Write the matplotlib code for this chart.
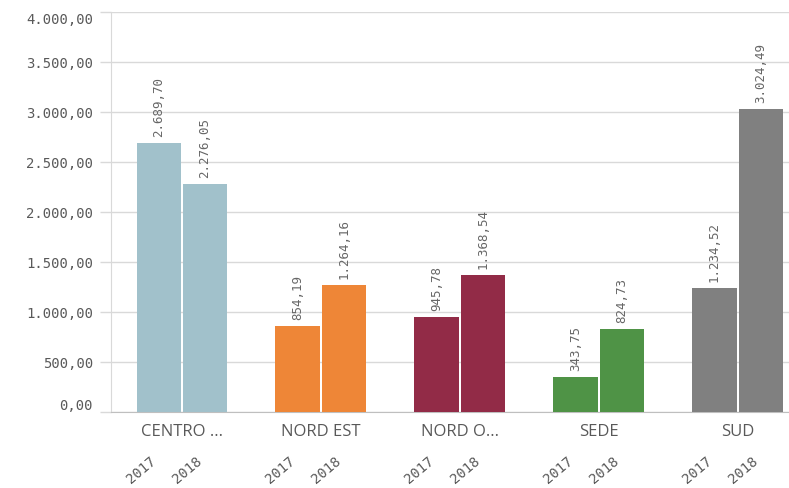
import matplotlib
matplotlib.use("Agg")
import matplotlib.pyplot as plt
import numpy as np

# data
categories = ["CENTRO ...", "NORD EST", "NORD O...", "SEDE", "SUD"]
years = ["2017", "2018"]
values_2017 = [2689.70, 854.19, 945.78, 343.75, 1234.52]
values_2018 = [2276.05, 1264.16, 1368.54, 824.73, 3024.49]
colors = ["#a1c1cb", "#ee8637", "#922b47", "#4f9346", "#808080"]
y_ticks = [0, 500, 1000, 1500, 2000, 2500, 3000, 3500, 4000]

TEXT = "#595959"
GRID = "#d9d9d9"
MONO = "DejaVu Sans Mono"


def it_number(v):
    # italian style: 1.234,56
    s = f"{v:,.2f}"
    return s.replace(",", "X").replace(".", ",").replace("X", ".")


def main():
    W, H = 789, 489
    fig = plt.figure(figsize=(W / 100, H / 100), dpi=100)
    left, right = 111 / W, 1.0
    bottom, top = 1 - 412.7 / H, 1 - 12.7 / H
    ax = fig.add_axes([left, bottom, right - left, top - bottom])

    x = np.arange(len(categories))
    width = 0.317
    offset = 0.167

    for i, cat in enumerate(categories):
        for j, vals in enumerate([values_2017, values_2018]):
            xp = x[i] + (-offset if j == 0 else offset)
            ax.bar(xp, vals[i], width=width, color=colors[i], zorder=3)
            ax.annotate(
                it_number(vals[i]),
                xy=(xp, vals[i]),
                xytext=(0, 5),
                textcoords="offset points",
                rotation=90,
                ha="center",
                va="bottom",
                fontsize=9,
                family=MONO,
                color="#666666",
            )
            ax.annotate(
                years[j],
                xy=(xp, 0),
                xycoords=("data", "axes fraction"),
                xytext=(0, -30),
                textcoords="offset points",
                rotation=40,
                ha="right",
                va="top",
                fontsize=10,
                family=MONO,
                color=TEXT,
            )

    ax.set_xlim(-0.509, 4.369)
    ax.set_ylim(0, 4000)

    ax.set_yticks(y_ticks)
    ax.set_yticklabels([it_number(v) for v in y_ticks], family=MONO, fontsize=10, color=TEXT)
    ax.tick_params(axis="y", length=8, color=GRID, width=1, pad=5)
    ticks = ax.yaxis.get_major_ticks()
    ticks[0].label1.set_verticalalignment("bottom")
    ticks[-1].label1.set_verticalalignment("top")

    ax.set_xticks(x)
    ax.set_xticklabels(categories, fontsize=12, color=TEXT, family="Open Sans")
    ax.tick_params(axis="x", length=0, pad=8)

    ax.grid(axis="y", color=GRID, linewidth=1, zorder=0)
    ax.set_axisbelow(True)

    for side in ["top", "right"]:
        ax.spines[side].set_visible(False)
    ax.spines["left"].set_color(GRID)
    ax.spines["bottom"].set_color("#bfbfbf")

    fig.savefig("out.png", dpi=100)


if __name__ == "__main__":
    main()
